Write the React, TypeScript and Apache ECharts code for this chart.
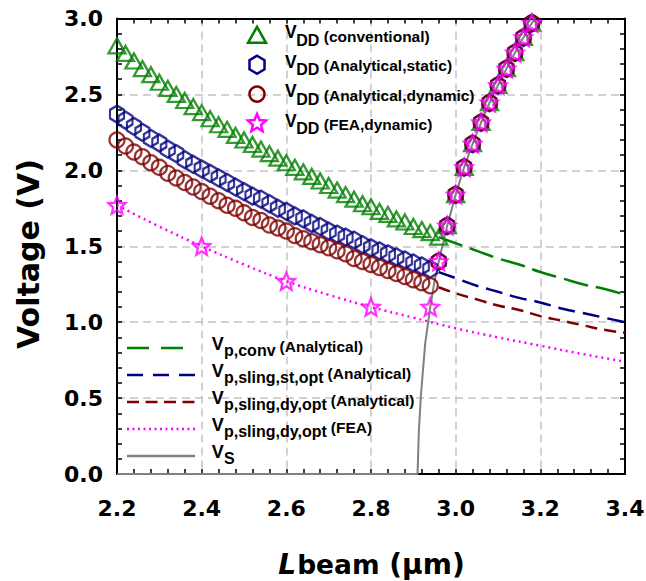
import React, { useEffect, useRef } from "react";
import * as echarts from "echarts";

// ---------- data ----------
const markerL = [2.20, 2.22, 2.24, 2.26, 2.28, 2.30, 2.32, 2.34, 2.36, 2.38, 2.40, 2.42, 2.44, 2.46, 2.48, 2.50, 2.52, 2.54, 2.56, 2.58, 2.60, 2.62, 2.64, 2.66, 2.68, 2.70, 2.72, 2.74, 2.76, 2.78, 2.80, 2.82, 2.84, 2.86, 2.88, 2.90, 2.92, 2.94];
const vddConv = [2.82, 2.77, 2.72, 2.67, 2.63, 2.58, 2.54, 2.50, 2.46, 2.42, 2.38, 2.34, 2.30, 2.27, 2.23, 2.20, 2.17, 2.14, 2.11, 2.08, 2.05, 2.02, 1.99, 1.96, 1.93, 1.90, 1.87, 1.84, 1.81, 1.78, 1.76, 1.73, 1.71, 1.68, 1.66, 1.63, 1.61, 1.59];
const vddConvExtraL = [2.96];
const vddConvExtraV = [1.56];
const vddStatic = [2.37, 2.33, 2.29, 2.25, 2.21, 2.18, 2.14, 2.11, 2.07, 2.04, 2.01, 1.98, 1.95, 1.92, 1.89, 1.86, 1.83, 1.81, 1.78, 1.75, 1.73, 1.70, 1.68, 1.65, 1.63, 1.60, 1.58, 1.56, 1.54, 1.51, 1.49, 1.47, 1.45, 1.43, 1.41, 1.39, 1.37, 1.35];
const vddDynamic = [2.20, 2.16, 2.12, 2.09, 2.05, 2.02, 1.98, 1.95, 1.92, 1.89, 1.86, 1.83, 1.80, 1.77, 1.75, 1.72, 1.69, 1.67, 1.64, 1.62, 1.60, 1.57, 1.55, 1.53, 1.51, 1.49, 1.47, 1.45, 1.42, 1.40, 1.38, 1.36, 1.34, 1.32, 1.30, 1.28, 1.26, 1.24];

// markers sitting on the V_S curve (all four VDD series)
const steepL = [2.96, 2.98, 3.00, 3.02, 3.04, 3.06, 3.08, 3.10, 3.12, 3.14, 3.16, 3.18];
const steepV = [1.40, 1.635, 1.84, 2.02, 2.175, 2.315, 2.445, 2.56, 2.67, 2.775, 2.875, 2.97];

const feaL = [2.2, 2.4, 2.6, 2.8, 2.94];
const feaV = [1.77, 1.50, 1.27, 1.10, 1.10];

const vpL = [2.96, 3.00, 3.05, 3.10, 3.15, 3.20, 3.25, 3.30, 3.35, 3.40];
const vpConv = [1.56, 1.52, 1.47, 1.42, 1.38, 1.33, 1.29, 1.25, 1.22, 1.18];
const vpStatic = [1.33, 1.29, 1.24, 1.20, 1.16, 1.13, 1.09, 1.06, 1.03, 1.00];
const vpDynamic = [1.23, 1.19, 1.15, 1.11, 1.08, 1.04, 1.01, 0.98, 0.95, 0.93];

const vpFeaL = [2.2, 2.3, 2.4, 2.5, 2.6, 2.7, 2.8, 2.9, 3.0, 3.1, 3.2, 3.3, 3.4];
const vpFea = [1.77, 1.63, 1.50, 1.38, 1.27, 1.18, 1.10, 1.03, 0.96, 0.90, 0.845, 0.79, 0.74];

const vsL = [2.20, 2.910, 2.913, 2.918, 2.928, 2.940, 2.950, 2.960, 2.98, 3.00, 3.02, 3.04, 3.06, 3.08, 3.10, 3.12, 3.14, 3.16, 3.18, 3.20];
const vsV = [0, 0, 0.28, 0.52, 0.86, 1.10, 1.27, 1.40, 1.635, 1.84, 2.02, 2.175, 2.315, 2.445, 2.56, 2.67, 2.775, 2.875, 2.97, 3.06];

const xTicks = { min: 2.2, max: 3.4, interval: 0.2 };
const yTicks = { min: 0, max: 3.0, interval: 0.5 };

const topLegend = [
  { sym: "tri", color: "#008000", sub: "DD", rest: "(conventional)" },
  { sym: "hex", color: "#000080", sub: "DD", rest: "(Analytical,static)" },
  { sym: "circ", color: "#800000", sub: "DD", rest: "(Analytical,dynamic)" },
  { sym: "star", color: "#ff00ff", sub: "DD", rest: "(FEA,dynamic)" },
];
const bottomLegend = [
  { color: "#008000", dash: [22, 12], width: 2.5, sub: "p,conv", rest: "(Analytical)" },
  { color: "#000080", dash: [16, 10], width: 2.5, sub: "p,sling,st,opt", rest: "(Analytical)" },
  { color: "#800000", dash: [12, 6.5], width: 2.5, sub: "p,sling,dy,opt", rest: "(Analytical)" },
  { color: "#ff00ff", dash: [2, 3.5], width: 2.5, sub: "p,sling,dy,opt", rest: "(FEA)" },
  { color: "#808080", dash: null as any, width: 2.5, sub: "S", rest: "" },
];

// ---------- helpers ----------
const zip = (xs: number[], ys: number[]) => xs.map((x, i) => [x, ys[i]]);
const LEG = "Liberation Sans";
const AX = "DejaVu Sans";

let mctx: CanvasRenderingContext2D | null = null;
function tw(text: string, size: number, family: string, weight = "bold", style = "normal") {
  if (!mctx) mctx = document.createElement("canvas").getContext("2d");
  mctx!.font = `${style} ${weight} ${size}px "${family}"`;
  return mctx!.measureText(text).width;
}

function txt(text: string, x: number, y: number, size: number, family: string, extra: any = {}) {
  return {
    type: "text",
    x,
    y,
    z: 100,
    silent: true,
    rotation: extra.rotation || 0,
    style: {
      text,
      fill: "#000",
      fontSize: size,
      fontFamily: family,
      fontWeight: "bold",
      fontStyle: extra.italic ? "italic" : "normal",
      align: extra.align || "left",
      verticalAlign: "middle",
    },
  };
}

function starPts(cx: number, cy: number, R: number, r: number) {
  const p: number[][] = [];
  for (let k = 0; k < 10; k++) {
    const a = -Math.PI / 2 + (k * Math.PI) / 5;
    const rad = k % 2 === 0 ? R : r;
    p.push([cx + rad * Math.cos(a), cy + rad * Math.sin(a)]);
  }
  return p;
}
function hexPts(cx: number, cy: number, w: number, h: number) {
  return [
    [cx, cy - h / 2], [cx + w / 2, cy - h / 4], [cx + w / 2, cy + h / 4],
    [cx, cy + h / 2], [cx - w / 2, cy + h / 4], [cx - w / 2, cy - h / 4],
  ];
}

const STAR_PATH = "path://M0,-1 L0.2645,-0.364 L0.951,-0.309 L0.428,0.139 L0.588,0.809 L0,0.45 L-0.588,0.809 L-0.428,0.139 L-0.951,-0.309 L-0.2645,-0.364 Z";
const HEX_PATH = "path://M0,-1 L0.866,-0.5 L0.866,0.5 L0,1 L-0.866,0.5 L-0.866,-0.5 Z";

function buildGraphics() {
  const g: any[] = [];
  // top legend
  topLegend.forEach((it, i) => {
    const rowV = 32.3 + 29.4 * i;
    const cx = 257, cy = rowV + 3;
    const st = { stroke: it.color, fill: "none", lineWidth: 2.5 };
    if (it.sym === "tri") g.push({ type: "polygon", z: 100, shape: { points: [[cx - 9, cy + 7.5], [cx, cy - 8.5], [cx + 9, cy + 7.5]] }, style: st });
    if (it.sym === "hex") g.push({ type: "polygon", z: 100, shape: { points: hexPts(cx, cy, 15, 18) }, style: st });
    if (it.sym === "circ") g.push({ type: "circle", z: 100, shape: { cx, cy, r: 7.5 }, style: st });
    if (it.sym === "star") g.push({ type: "polygon", z: 100, shape: { points: starPts(cx, cy, 9.5, 4.3) }, style: st });
    let x = 285;
    g.push(txt("V", x, rowV, 17.5, LEG));
    x += tw("V", 17.5, LEG) - 0.5;
    g.push(txt(it.sub, x, rowV + 8, 16, LEG));
    x += tw(it.sub, 16, LEG) + 4.5;
    g.push(txt(it.rest, x, rowV + 4, 15.5, LEG));
  });
  // bottom legend
  bottomLegend.forEach((it, i) => {
    const rowV = 343.5 + 27 * i;
    const ly = rowV + 4.5;
    const ls: any = { stroke: it.color, lineWidth: it.width };
    if (it.dash) ls.lineDash = it.dash;
    g.push({ type: "line", z: 100, shape: { x1: 127, y1: ly, x2: 195, y2: ly }, style: ls });
    let x = 211.7;
    g.push(txt("V", x, rowV + 0.8, 18, LEG));
    x += tw("V", 18, LEG) + 0.3;
    g.push(txt(it.sub, x, rowV + 6.9, 16, LEG));
    x += tw(it.sub, 16, LEG) + 4;
    if (it.rest) g.push(txt(it.rest, x, rowV + 3.2, 15.5, LEG));
  });
  // y title
  g.push(txt("Voltage (V)", 28.5, 254, 30, AX, { rotation: Math.PI / 2, align: "center" }));
  // x title
  const wL = tw("L", 28, AX, "bold", "italic");
  const wB = tw("beam", 26.5, AX);
  const wP = tw(" (\u03bcm)", 28, AX);
  const x0 = 371 - (wL + wB + wP) / 2;
  g.push(txt("L", x0, 564.5, 28, AX, { italic: true }));
  g.push(txt("beam", x0 + wL + 1, 564.5, 26.5, AX));
  g.push(txt(" (\u03bcm)", x0 + wL + 1 + wB, 564.5, 28, AX));
  return g;
}

function axisCommon(pos: string, t: { min: number; max: number; interval: number }, labels: boolean, margin: number) {
  return {
    type: "value",
    position: pos,
    min: t.min,
    max: t.max,
    interval: t.interval,
    axisLine: { show: true, onZero: false, lineStyle: { color: "#000", width: 2 } },
    axisTick: { show: true, inside: true, length: 5, lineStyle: { color: "#000", width: 1.5 } },
    minorTick: { show: true, splitNumber: 5, length: 5, lineStyle: { color: "#000", width: 1.5 } },
    splitLine: labels
      ? { show: true, lineStyle: { color: "#c4c4c4", width: 1.5, type: [8, 5] } }
      : { show: false },
    minorSplitLine: { show: false },
    axisLabel: {
      show: labels,
      margin,
      color: "#000",
      fontFamily: AX,
      fontWeight: "bold",
      fontSize: 22,
      showMinLabel: true,
      showMaxLabel: true,
      formatter: (v: number) => v.toFixed(1),
    },
  };
}

function hollow(color: string) {
  return { color: "rgba(0,0,0,0)", borderColor: color, borderWidth: 2.3 };
}

export default function App() {
  const ref = useRef<HTMLDivElement>(null);
  useEffect(() => {
    if (!ref.current) return;
    const chart = echarts.init(ref.current, null, { renderer: "svg" });
    const steep = zip(steepL, steepV);
    const option: any = {
      animation: false,
      backgroundColor: "#fff",
      grid: { left: 117, right: 21, top: 18.5, bottom: 107, containLabel: false, outerBoundsMode: "none" },
      xAxis: [axisCommon("bottom", xTicks, true, 23), axisCommon("top", xTicks, false, 8)],
      yAxis: [axisCommon("left", yTicks, true, 14), axisCommon("right", yTicks, false, 8)],
      series: [
        { type: "line", data: zip(vpL, vpConv), symbol: "none", smooth: true, lineStyle: { color: "#008000", width: 2.5, type: [25, 8] }, z: 2 },
        { type: "line", data: zip(vpL, vpStatic), symbol: "none", smooth: true, lineStyle: { color: "#000080", width: 2.5, type: [17, 8] }, z: 2 },
        { type: "line", data: zip(vpL, vpDynamic), symbol: "none", smooth: true, lineStyle: { color: "#800000", width: 2.5, type: [12, 7] }, z: 2 },
        { type: "line", data: zip(vpFeaL, vpFea), symbol: "none", smooth: true, lineStyle: { color: "#ff00ff", width: 2.5, type: [2, 4] }, z: 2 },
        { type: "line", data: zip(vsL, vsV), symbol: "none", lineStyle: { color: "#808080", width: 2 }, z: 3 },
        {
          type: "scatter", z: 4, symbol: "triangle", symbolSize: [17, 15],
          data: [...zip(markerL, vddConv), ...zip(vddConvExtraL, vddConvExtraV), ...steep.slice(1)],
          itemStyle: hollow("#008000"),
        },
        {
          type: "scatter", z: 5, symbol: HEX_PATH, symbolSize: [14, 17],
          data: [...zip(markerL, vddStatic), ...steep],
          itemStyle: hollow("#000080"),
        },
        {
          type: "scatter", z: 6, symbol: "circle", symbolSize: 15,
          data: [...zip(markerL, vddDynamic), ...steep],
          itemStyle: hollow("#800000"),
        },
        {
          type: "scatter", z: 7, symbol: STAR_PATH, symbolSize: 17,
          data: [...zip(feaL, feaV), ...steep],
          itemStyle: hollow("#ff00ff"),
        },
      ],
      graphic: buildGraphics(),
    };
    chart.setOption(option);
    return () => chart.dispose();
  }, []);
  return (
    <div
      ref={ref}
      style={{ position: "absolute", left: 0, top: 0, width: 646, height: 581, background: "#fff" }}
    />
  );
}
